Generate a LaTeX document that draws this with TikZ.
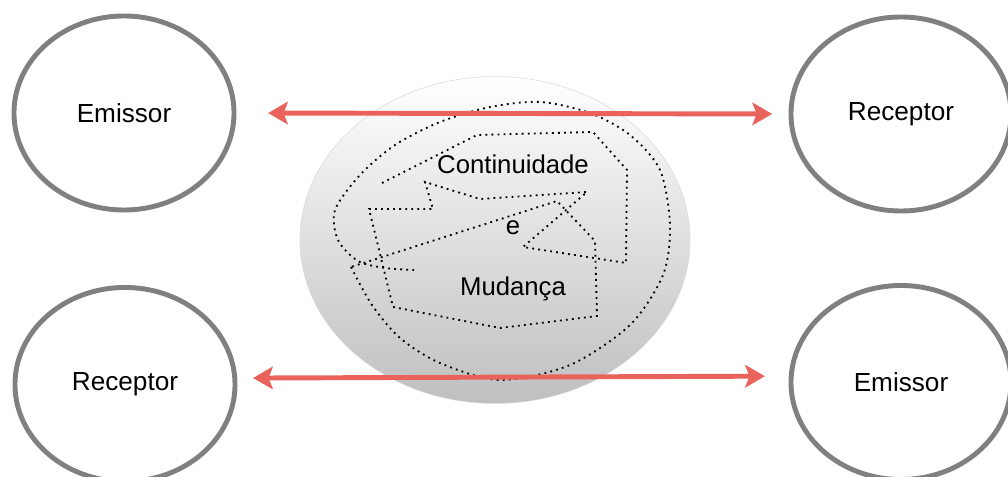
\documentclass[tikz,border=0pt]{standalone}
\usepackage{fontspec}
\setmainfont{Liberation Sans}
\usetikzlibrary{shapes.geometric,arrows.meta}
\definecolor{ringgray}{RGB}{128,128,128}
\definecolor{arrowred}{RGB}{233,98,92}
\tikzset{
  ring/.style={draw=ringgray, line width=3.5pt, ellipse, minimum width=5.5cm, minimum height=4.85cm, font=\fontsize{18.6pt}{21pt}\selectfont},
  word/.style={font=\fontsize{18.3pt}{21pt}\selectfont},
  dotline/.style={line width=1.3pt, dash pattern=on 1.3pt off 3pt},
  link/.style={arrowred, line width=3.5pt, {Stealth[length=14pt,width=16pt,inset=3pt]}-{Stealth[length=14pt,width=16pt,inset=3pt]}}
}

\begin{document}
\begin{tikzpicture}[x=0.025cm, y=-0.025cm]
                    \useasboundingbox (0,0) rectangle (1008,477);
                    \node[ellipse, draw=gray!30, thin, top color=white, bottom color=gray!50, minimum width=9.75cm, minimum height=8.17cm] (mid) at (495,240) {};
                    \node[ring] (emA) at (124,113) {Emissor};
                    \node[ring] (recA) at (901,114) {Receptor};
                    \node[ring] (recB) at (125,384.5) {Receptor};
                    \node[ring] (emB) at (901,382.5) {Emissor};
                    \node[word] (cont) at (513,164) {Continuidade};
                    \node[word] (e) at (513,228) {e};
                    \node[word] (mud) at (513,289) {Mudança};
                    \draw[dotline] (382,183) -- (477,135) -- (593,132) -- (627,170) -- (626,263) -- (523,247) -- (587,192) -- (480,199) -- (425,182) -- (433,209) -- (369,209) -- (393,307) -- (500,328) -- (597,316) -- (595,241) -- (557,201) -- (351,267)
                      plot[smooth] coordinates {(351,267) (372,305) (400,338) (440,363) (500,380) (570,365) (630,325) (663,275) (670,225) (660,170) (630,135) (590,113) (540,102) (490,107) (440,122) (395,145) (360,175) (335,210) (338,240) (358,261) (385,268) (415,270)};
                    \draw[link, shorten <=0.79cm, shorten >=0.41cm] (emA.east) -- (recA.west);
                    \draw[link, shorten <=0.39cm, shorten >=0.59cm] ([yshift=0.16cm]recB.east) -- ([yshift=0.16cm]emB.west);
                \end{tikzpicture}
\end{document}
